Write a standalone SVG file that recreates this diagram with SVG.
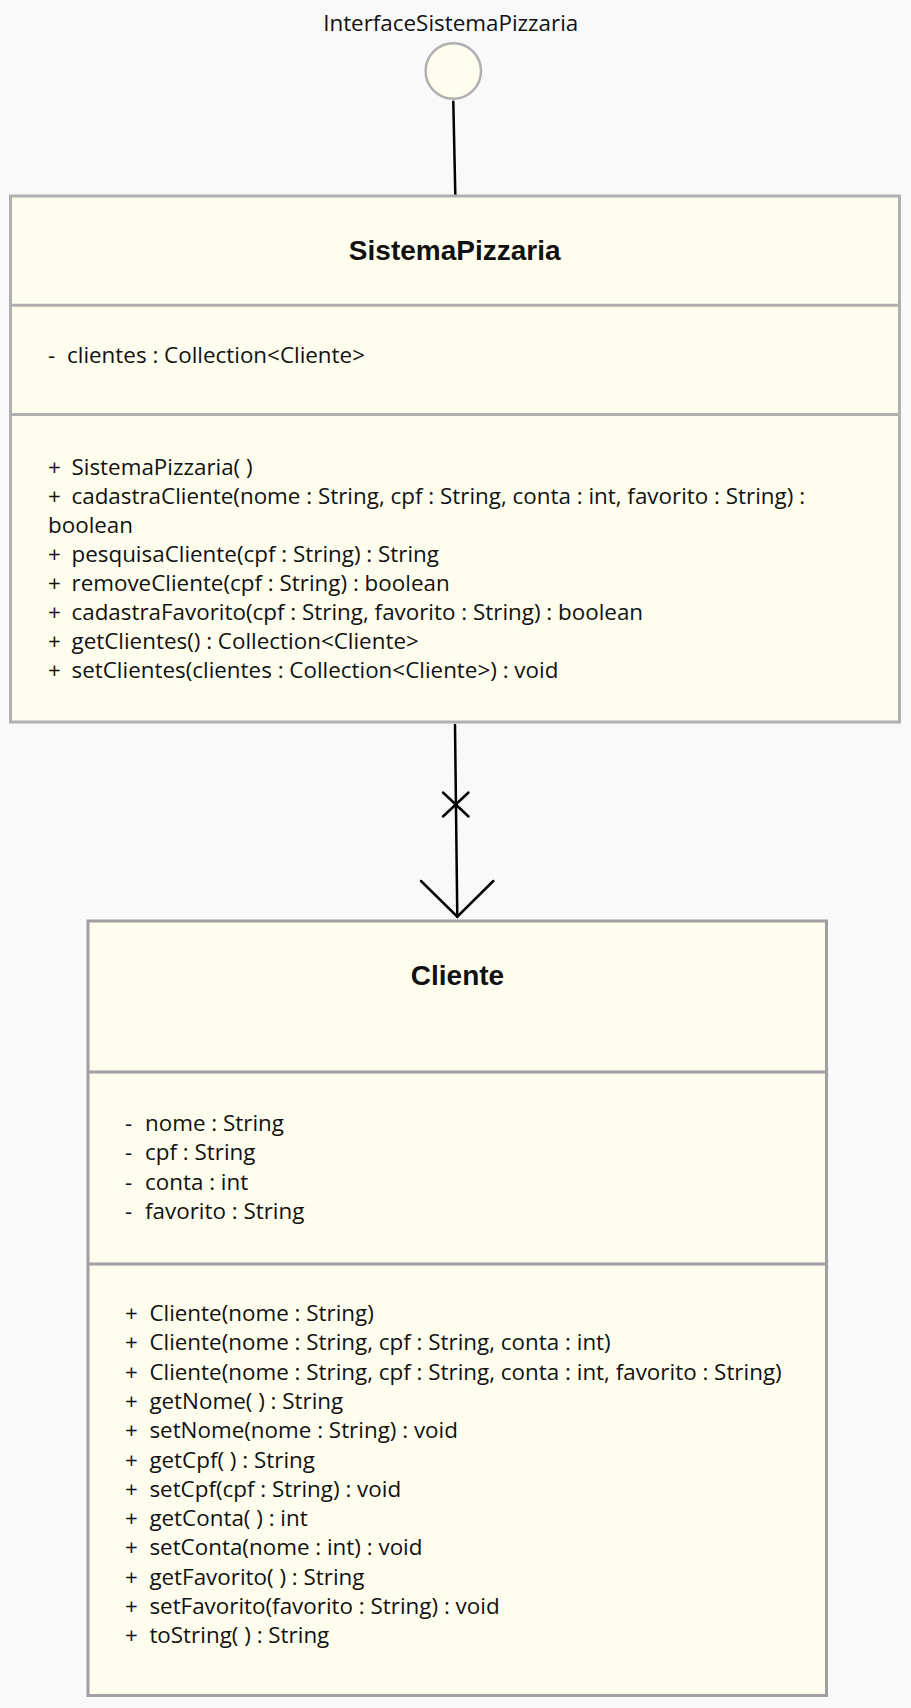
<svg xmlns="http://www.w3.org/2000/svg" width="911" height="1708" viewBox="0 0 911 1708">
<style>
.bg{fill:#f9f9f9}
.box{fill:#fffeee;stroke-width:3}
.s1{stroke:#b0b0b0}
.s2{stroke:#a0a0a0}
.t{font-family:"Open Sans","Liberation Sans",sans-serif;font-size:22.4px;fill:#111}
.h{font-family:"Liberation Sans",Arial,sans-serif;font-size:28px;font-weight:bold;fill:#111;text-anchor:middle}
.lbl{font-family:"Open Sans","Liberation Sans",sans-serif;font-size:22.4px;fill:#111;text-anchor:middle}
.c{stroke:#000;stroke-width:2.5;fill:none;stroke-linecap:round}
</style>
<rect class="bg" x="0" y="0" width="911" height="1708"/>
<g id="connectors">
<line class="c" x1="453.3" y1="101.7" x2="455.3" y2="194.5"/>
<line class="c" x1="455" y1="725" x2="457.3" y2="916.7"/>
<line class="c" x1="443" y1="792.5" x2="468.5" y2="816.5"/>
<line class="c" x1="468.5" y1="792.5" x2="443" y2="816.5"/>
<polyline class="c" points="421,881 457.3,916.7 493.3,881"/>
</g>
<g id="InterfaceSistemaPizzaria">
<text class="lbl" x="450.7" y="30.7">InterfaceSistemaPizzaria</text>
<circle cx="453.3" cy="71" r="27.7" fill="#fffeee" stroke="#b0b0b0" stroke-width="2.5"/>
</g>
<g id="SistemaPizzaria">
<rect class="box s1" x="10.5" y="196" width="889" height="526"/>
<line class="s1" x1="10.5" y1="305.3" x2="899.5" y2="305.3" stroke-width="3"/>
<line class="s1" x1="10.5" y1="414.5" x2="899.5" y2="414.5" stroke-width="3"/>
<text class="h" x="454.7" y="260">SistemaPizzaria</text>
<text class="t" y="363"><tspan x="48">-</tspan><tspan x="67">clientes : Collection&lt;Cliente&gt;</tspan></text>
<text class="t" y="475"><tspan x="48">+</tspan><tspan x="71.5">SistemaPizzaria( )</tspan></text>
<text class="t" y="504"><tspan x="48">+</tspan><tspan x="71.5">cadastraCliente(nome : String, cpf : String, conta : int, favorito : String) :</tspan></text>
<text class="t" x="48" y="533">boolean</text>
<text class="t" y="562"><tspan x="48">+</tspan><tspan x="71.5">pesquisaCliente(cpf : String) : String</tspan></text>
<text class="t" y="591"><tspan x="48">+</tspan><tspan x="71.5">removeCliente(cpf : String) : boolean</tspan></text>
<text class="t" y="620"><tspan x="48">+</tspan><tspan x="71.5">cadastraFavorito(cpf : String, favorito : String) : boolean</tspan></text>
<text class="t" y="649"><tspan x="48">+</tspan><tspan x="71.5">getClientes() : Collection&lt;Cliente&gt;</tspan></text>
<text class="t" y="678"><tspan x="48">+</tspan><tspan x="71.5">setClientes(clientes : Collection&lt;Cliente&gt;) : void</tspan></text>
</g>
<g id="Cliente">
<rect class="box s2" x="88" y="921" width="738.5" height="774.5"/>
<line class="s2" x1="88" y1="1072" x2="826.5" y2="1072" stroke-width="3"/>
<line class="s2" x1="88" y1="1264" x2="826.5" y2="1264" stroke-width="3"/>
<text class="h" x="457.5" y="984.5">Cliente</text>
<text class="t" y="1131"><tspan x="125">-</tspan><tspan x="145">nome : String</tspan></text>
<text class="t" y="1160.3"><tspan x="125">-</tspan><tspan x="145">cpf : String</tspan></text>
<text class="t" y="1189.6"><tspan x="125">-</tspan><tspan x="145">conta : int</tspan></text>
<text class="t" y="1218.9"><tspan x="125">-</tspan><tspan x="145">favorito : String</tspan></text>
<text class="t" y="1321"><tspan x="125">+</tspan><tspan x="149.4">Cliente(nome : String)</tspan></text>
<text class="t" y="1350.3"><tspan x="125">+</tspan><tspan x="149.4">Cliente(nome : String, cpf : String, conta : int)</tspan></text>
<text class="t" y="1379.6"><tspan x="125">+</tspan><tspan x="149.4">Cliente(nome : String, cpf : String, conta : int, favorito : String)</tspan></text>
<text class="t" y="1408.9"><tspan x="125">+</tspan><tspan x="149.4">getNome( ) : String</tspan></text>
<text class="t" y="1438.2"><tspan x="125">+</tspan><tspan x="149.4">setNome(nome : String) : void</tspan></text>
<text class="t" y="1467.5"><tspan x="125">+</tspan><tspan x="149.4">getCpf( ) : String</tspan></text>
<text class="t" y="1496.8"><tspan x="125">+</tspan><tspan x="149.4">setCpf(cpf : String) : void</tspan></text>
<text class="t" y="1526.1"><tspan x="125">+</tspan><tspan x="149.4">getConta( ) : int</tspan></text>
<text class="t" y="1555.4"><tspan x="125">+</tspan><tspan x="149.4">setConta(nome : int) : void</tspan></text>
<text class="t" y="1584.7"><tspan x="125">+</tspan><tspan x="149.4">getFavorito( ) : String</tspan></text>
<text class="t" y="1614"><tspan x="125">+</tspan><tspan x="149.4">setFavorito(favorito : String) : void</tspan></text>
<text class="t" y="1643.3"><tspan x="125">+</tspan><tspan x="149.4">toString( ) : String</tspan></text>
</g>
</svg>
